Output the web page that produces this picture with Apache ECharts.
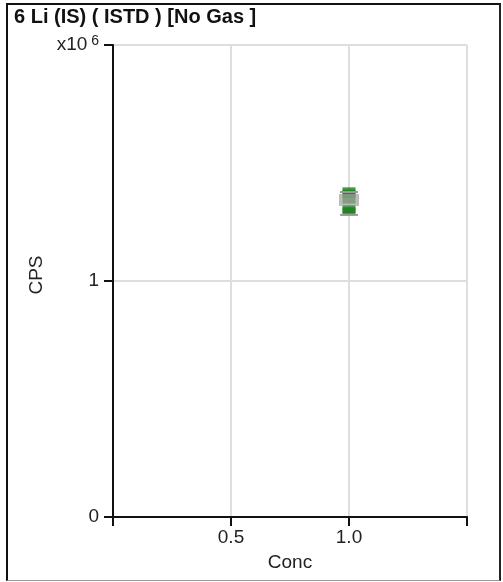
<!DOCTYPE html>
<html>
<head>
<meta charset="utf-8">
<script src="https://cdn.jsdelivr.net/npm/echarts@6/dist/echarts.min.js"></script>
<style>
  html, body { margin: 0; padding: 0; background: #fff; }
  #frame {
    position: absolute; left: 6px; top: 3px; width: 491px; height: 575px;
    border-left: 2px solid #111; border-top: 2px solid #111;
    border-right: 2px solid #222; border-bottom: 1px solid #999;
  }
  #chart { position: absolute; left: 0; top: 0; width: 503px; height: 582px; }
</style>
</head>
<body>
<div id="frame"></div>
<div id="chart"></div>
<script>
// replicate measurements (Conc, CPS in units of 1e6)
var concValues = [1.0, 1.0, 1.0, 1.0, 1.0];
var cpsValues = [1.38, 1.37, 1.345, 1.305, 1.295];
// spread bar: [conc, whiskerLow, boxLow, boxHigh, whiskerHigh]
var spread = [[1.0, 1.28, 1.318, 1.369, 1.377]];
var xTicks = [0, 0.5, 1.0, 1.5];
var yTicks = [0, 1, 2];

var FONT = 'Liberation Sans';
var chart = echarts.init(document.getElementById('chart'));

var points = concValues.map(function (c, i) { return [c, cpsValues[i]]; });

var option = {
	animation: false,
	title: {
		text: '6 Li (IS) ( ISTD ) [No Gas ]',
		left: 9,
		top: 2,
		textStyle: { fontFamily: FONT, fontSize: 20, fontWeight: 'bold', color: '#111' }
	},
	grid: { left: 113, right: 36, top: 45, bottom: 65 },
	xAxis: {
		type: 'value',
		min: xTicks[0],
		max: xTicks[xTicks.length - 1],
		interval: 0.5,
		name: 'Conc',
		nameLocation: 'middle',
		nameGap: 36,
		nameTextStyle: { fontFamily: FONT, fontSize: 19, color: '#222' },
		axisLine: { onZero: false, lineStyle: { color: '#111', width: 2 } },
		axisTick: { show: true, length: 9, lineStyle: { color: '#111', width: 2 } },
		axisLabel: {
			fontFamily: FONT, fontSize: 19, color: '#222', margin: 11,
			formatter: function (v) {
				return (v === 0.5 || v === 1) ? v.toFixed(1) : '';
			}
		},
		splitLine: { show: true, lineStyle: { color: '#dedede', width: 2 } }
	},
	yAxis: {
		type: 'value',
		min: yTicks[0],
		max: yTicks[yTicks.length - 1],
		interval: 1,
		name: 'CPS',
		nameLocation: 'middle',
		nameGap: 63,
		nameRotate: 90,
		nameTextStyle: { fontFamily: FONT, fontSize: 19, color: '#222', padding: [0, 0, 0, 12] },
		axisLine: { onZero: false, lineStyle: { color: '#111', width: 2 } },
		axisTick: { show: true, length: 9, lineStyle: { color: '#111', width: 2 } },
		axisLabel: {
			fontFamily: FONT, fontSize: 19, color: '#222', margin: 14,
			formatter: function (v) {
				if (v === 2) return '{b|x10}{s| 6}';
				return String(v);
			},
			rich: {
				b: { fontFamily: FONT, fontSize: 19, color: '#222' },
				s: { fontFamily: FONT, fontSize: 14, color: '#222', verticalAlign: 'top', padding: [0, 0, 8, 0] }
			}
		},
		splitLine: { show: true, lineStyle: { color: '#dedede', width: 2 } }
	},
	series: [
		{
			type: 'scatter',
			z: 2,
			symbol: 'rect',
			symbolSize: [13, 8],
			itemStyle: { color: '#1a7f1a' },
			data: points
		},
		{
			type: 'custom',
			z: 3,
			data: spread,
			renderItem: function (params, api) {
				var x = api.value(0);
				var wLow = api.coord([x, api.value(1)]);
				var bLow = api.coord([x, api.value(2)]);
				var bHigh = api.coord([x, api.value(3)]);
				var wHigh = api.coord([x, api.value(4)]);
				var half = 10, cap = 9;
				return {
					type: 'group',
					children: [
						{ type: 'rect', shape: { x: bHigh[0] - half, y: bHigh[1], width: half * 2, height: bLow[1] - bHigh[1] }, style: { fill: 'rgba(160,160,160,0.7)' } },
						{ type: 'line', shape: { x1: wHigh[0] - cap, y1: wHigh[1], x2: wHigh[0] + cap, y2: wHigh[1] }, style: { stroke: '#9a9a9a', lineWidth: 2 } },
						{ type: 'line', shape: { x1: wLow[0] - cap, y1: wLow[1], x2: wLow[0] + cap, y2: wLow[1] }, style: { stroke: '#9a9a9a', lineWidth: 2 } }
					]
				};
			}
		}
	]
};

chart.setOption(option);
</script>
</body>
</html>
